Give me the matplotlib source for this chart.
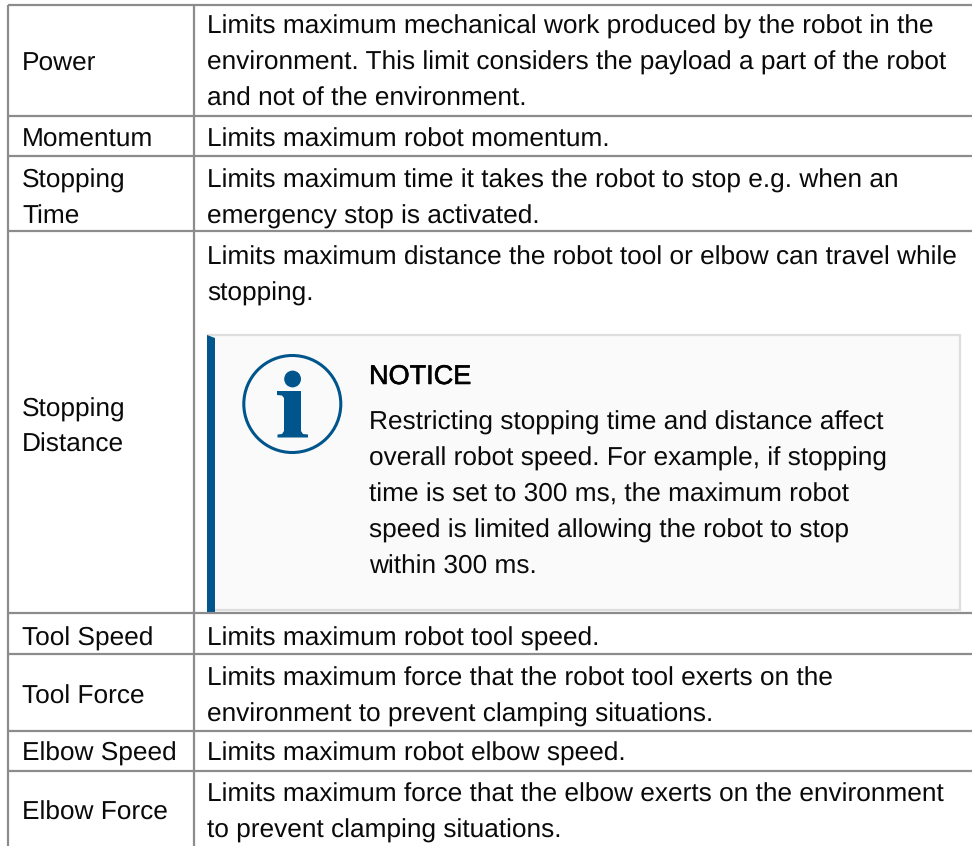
import matplotlib
matplotlib.use("Agg")
import matplotlib.pyplot as plt
import matplotlib.patheffects as pe
from matplotlib.patches import Rectangle, Circle, Polygon

plt.rcParams['font.family'] = ['Liberation Sans', 'DejaVu Sans']
plt.rcParams['text.hinting'] = 'none'
plt.rcParams['text.hinting_factor'] = 8

row_labels = [["Power"], ["Momentum"], ["Stopping", "Time"], ["Stopping", "Distance"],
              ["Tool Speed"], ["Tool Force"], ["Elbow Speed"], ["Elbow Force"]]
label_baselines = [[70], [146], [187, 223], [416, 451], [645], [703], [760], [819]]
descriptions = [
    "Limits maximum mechanical work produced by the robot in the",
    "environment. This limit considers the payload a part of the robot",
    "and not of the environment.",
    "Limits maximum robot momentum.",
    "Limits maximum time it takes the robot to stop e.g. when an",
    "emergency stop is activated.",
    "Limits maximum distance the robot tool or elbow can travel while",
    "stopping.",
    "Limits maximum robot tool speed.",
    "Limits maximum force that the robot tool exerts on the",
    "environment to prevent clamping situations.",
    "Limits maximum robot elbow speed.",
    "Limits maximum force that the elbow exerts on the environment",
    "to prevent clamping situations.",
]
desc_baselines = [33, 69, 105, 146, 187, 223, 264, 300, 645, 685, 721, 760, 801, 837]
notice_title = "NOTICE"
notice_lines = [
    "Restricting stopping time and distance affect",
    "overall robot speed. For example, if stopping",
    "time is set to 300 ms, the maximum robot",
    "speed is limited allowing the robot to stop",
    "within 300 ms.",
]
notice_baselines = [429, 465, 501, 537, 573]
h_rules = [5.5, 116.5, 156, 231, 613.5, 654, 731, 771]
v_rules = [8, 193.5]

FS = 18.94
DY = 0.8
INK = "#0a0a0a"
RULE = "#8c8c8c"
BLUE = "#00568c"

fig = plt.figure(figsize=(9.72, 8.46), dpi=100, facecolor="white")
ax = fig.add_axes([0, 0, 1, 1])
ax.set_xlim(0, 972)
ax.set_ylim(846, 0)
ax.axis("off")

for y in h_rules:
    ax.plot([8, 972], [y, y], color=RULE, lw=1.6, solid_capstyle="butt")
for x in v_rules:
    ax.plot([x, x], [5, 846], color=RULE, lw=1.6, solid_capstyle="butt")

for lines, ys in zip(row_labels, label_baselines):
    for s, y in zip(lines, ys):
        ax.text(22, y + DY, s, fontsize=FS, color=INK, va="baseline", ha="left")
for s, y in zip(descriptions, desc_baselines):
    ax.text(207, y + DY, s, fontsize=FS, color=INK, va="baseline", ha="left")

# notice panel
ax.add_patch(Rectangle((208, 335.5), 751.5, 275, facecolor="#fafafa", edgecolor="#dedede", lw=1.6))
ax.add_patch(Polygon([(207, 335), (215, 338), (215, 612), (207, 612)], closed=True, facecolor=BLUE, edgecolor="none"))

# info icon
ax.add_patch(Circle((292.3, 404), 48.5, facecolor="none", edgecolor=BLUE, lw=2.2))
ax.add_patch(Circle((292.6, 379), 8.4, facecolor=BLUE, edgecolor="none"))
ax.add_patch(Polygon([(277, 391), (301, 391), (301, 431), (303, 434), (308, 434.5), (308, 437.5),
                      (277.5, 437.5), (277.5, 434.5), (282, 434), (284, 431), (284, 398),
                      (282, 395.5), (277, 395)], closed=True, facecolor=BLUE, edgecolor="none"))

title = ax.text(369, 384, notice_title, fontsize=19.5, color="#000000", va="baseline", ha="left")
title.set_path_effects([pe.withStroke(linewidth=0.4, foreground="#000000")])
for s, y in zip(notice_lines, notice_baselines):
    ax.text(369, y + DY, s, fontsize=FS, color=INK, va="baseline", ha="left")

fig.savefig("out.png", dpi=100)
